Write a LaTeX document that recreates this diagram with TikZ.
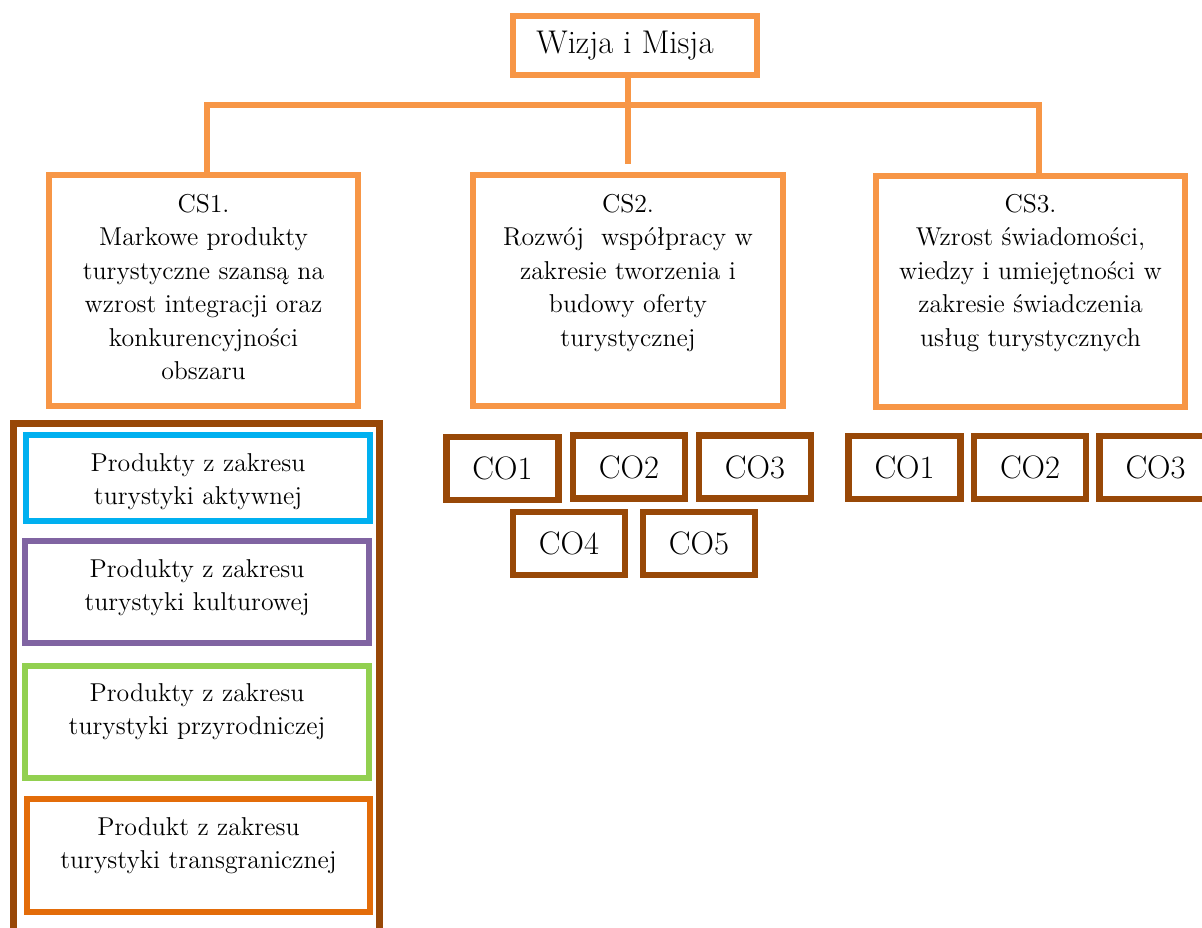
\documentclass[tikz,border=0pt]{standalone}
\usepackage{fontspec}

\definecolor{lightorange}{HTML}{F79646}
\definecolor{darkbrown}{HTML}{984807}
\definecolor{skyblue}{HTML}{00B0F0}
\definecolor{lilac}{HTML}{8064A2}
\definecolor{leafgreen}{HTML}{92D050}
\definecolor{deeporange}{HTML}{E36C09}

\begin{document}
\begin{tikzpicture}[x=0.02cm, y=-0.02cm,
    link/.style={draw=lightorange, line width=0.12cm},
    goalbox/.style={rectangle, draw=lightorange, line width=0.12cm, inner sep=0pt,
        minimum width=6.2cm, minimum height=4.62cm},
    goaltext/.style={anchor=north, inner sep=0pt, align=center,
        font=\fontsize{14.7}{19}\selectfont},
    cobox/.style={rectangle, draw=darkbrown, line width=0.13cm, inner sep=0pt,
        minimum width=2.24cm, minimum height=1.26cm, font=\fontsize{18.5}{22}\selectfont},
    prodbox/.style={rectangle, line width=0.12cm, inner sep=0pt, minimum width=6.88cm},
    prodtext/.style={anchor=north, inner sep=0pt, align=center,
        font=\fontsize{14.7}{19}\selectfont}]

    % page frame
    \path[use as bounding box] (0,0) rectangle (1202,927);
    \clip (0,0) rectangle (1202,927);

    % vision and mission
    \node[rectangle, draw=lightorange, line width=0.12cm, inner sep=0pt,
        minimum width=4.88cm, minimum height=1.18cm,
        font=\fontsize{18.7}{22}\selectfont] (wizja) at (635,45.5) {Wizja i Misja\kern0.4cm};

    % strategic goals
    \node[goalbox] (cs1) at (203.5,290.5) {};
    \node[goaltext] (cs1txt) at (203.5,194) {CS1.\\Markowe produkty\\turystyczne szansą na\\wzrost integracji oraz\\konkurencyjności\\obszaru};

    \node[goalbox] (cs2) at (628,290.5) {};
    \node[goaltext] (cs2txt) at (628,194) {CS2.\\Rozwój\ \ współpracy w\\zakresie tworzenia i\\budowy oferty\\turystycznej};

    \node[goalbox] (cs3) at (1030.5,291.5) {};
    \node[goaltext] (cs3txt) at (1030.5,194) {CS3.\\Wzrost świadomości,\\wiedzy i umiejętności w\\zakresie świadczenia\\usług turystycznych};

    % tree lines
    \coordinate (hub) at (628,104.5);
    \draw[link, shorten >=0.16cm] (cs2.north |- wizja.south) -- (cs2.north);
    \draw[link] ([xshift=0.07cm]cs1.north) -- ([xshift=0.07cm]cs1.north |- hub)
        -- ([xshift=0.17cm]cs3.north |- hub) -- ([xshift=0.17cm]cs3.north);

    % products of CS1
    \node[rectangle, draw=darkbrown, line width=0.14cm, inner sep=0pt,
        minimum width=7.32cm, minimum height=10.73cm] (produkty) at (196.5,691.75) {};

    \node[prodbox, draw=skyblue, minimum height=1.72cm] (aktyw) at (198,478) {};
    \node[prodtext] (aktywtxt) at (198,453) {Produkty z zakresu\\turystyki aktywnej};

    \node[prodbox, draw=lilac, minimum height=2.04cm] (kultur) at (197,592) {};
    \node[prodtext] (kulturtxt) at (197,559) {Produkty z zakresu\\turystyki kulturowej};

    \node[prodbox, draw=leafgreen, minimum height=2.24cm] (przyr) at (197,722) {};
    \node[prodtext] (przyrtxt) at (197,683) {Produkty z zakresu\\turystyki przyrodniczej};

    \node[prodbox, draw=deeporange, minimum width=6.86cm, minimum height=2.26cm] (transgr) at (198.5,855.5) {};
    \node[prodtext] (transgrtxt) at (198.5,817) {Produkt z zakresu\\turystyki transgranicznej};

    % operational goals of CS2
    \node[cobox] (cs2co1) at (502.5,468.5) {CO1};
    \node[cobox] (cs2co2) at (629,467) {CO2};
    \node[cobox] (cs2co3) at (755,467) {CO3};
    \node[cobox] (cs2co4) at (569,543.5) {CO4};
    \node[cobox] (cs2co5) at (699,543.5) {CO5};

    % operational goals of CS3
    \node[cobox] (cs3co1) at (904.5,467.5) {CO1};
    \node[cobox] (cs3co2) at (1030,467.5) {CO2};
    \node[cobox] (cs3co3) at (1155.5,467.5) {CO3};

\end{tikzpicture}
\end{document}
